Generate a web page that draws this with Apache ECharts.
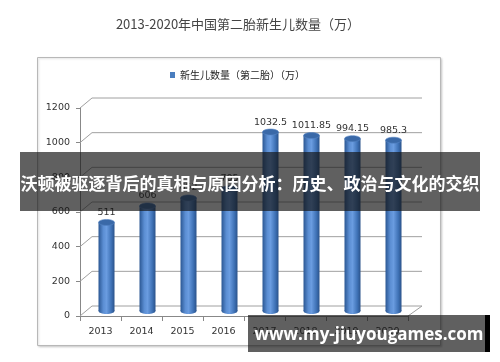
<!DOCTYPE html>
<html><head><meta charset="utf-8">
<script src="https://cdn.jsdelivr.net/npm/echarts@6/dist/echarts.min.js"></script>
<style>html,body{margin:0;padding:0;background:#fff}#c{width:500px;height:362px}</style>
</head><body><div id="c"></div>
<script>
const titleText = '2013-2020年中国第二胎新生儿数量（万）';
const seriesName = '新生儿数量（第二胎）（万）';
const categories = ['2013','2014','2015','2016','2017','2018','2019','2020'];
const values = [511, 606, 652, 705, 1032.5, 1011.85, 994.15, 985.3];
const yTicks = [0, 200, 400, 600, 800, 1000, 1200];
const bannerText = '沃顿被驱逐背后的真相与原因分析：历史、政治与文化的交织';
const watermark = 'www.my-jiuyougames.com';

const DX = 12, DY = 10; // depth of back wall
const chart = echarts.init(document.getElementById('c'));
const numFont = 'DejaVu Sans, Verdana, sans-serif';
const cjk = '"Noto Sans CJK SC", sans-serif';

chart.setOption({
  animation: false,
  backgroundColor: '#fff',
  title: {
    text: titleText, left: 233, top: 13, textAlign: 'center',
    textStyle: { fontFamily: cjk, fontSize: 13, fontWeight: 'normal', color: '#444' }
  },
  legend: {
    data: [{ name: seriesName, icon: 'rect' }], top: 65, left: 165, itemWidth: 5, itemHeight: 6, itemGap: 3,
    textStyle: { fontFamily: cjk, fontSize: 10, color: '#222' }
  },
  grid: { left: 80, width: 328, top: 108, height: 208 },
  xAxis: {
    type: 'category', data: categories,
    axisLine: { lineStyle: { color: '#888' } },
    axisTick: { show: true, lineStyle: { color: '#888' }, length: 5 },
    axisLabel: { fontFamily: numFont, fontSize: 9.5, color: '#333', margin: 11 }
  },
  yAxis: {
    type: 'value', min: 0, max: 1200, interval: 200,
    axisLine: { show: true, lineStyle: { color: '#888' } },
    axisTick: { show: true, length: 4, lineStyle: { color: '#888' } },
    axisLabel: { fontFamily: numFont, fontSize: 9.5, color: '#333', margin: 10, formatter: v => String(v) },
    splitLine: { show: false }
  },
  series: [
    {
      type: 'custom', name: 'walls', silent: true, z: 1,
      data: yTicks.map(v => [0, v]),
      renderItem: function (params, api) {
        const cs = params.coordSys;
        const v = api.value(1);
        const y = api.coord([0, v])[1];
        const children = [{
          type: 'polyline',
          shape: { points: [[cs.x, y], [cs.x + DX, y - DY], [cs.x + cs.width + DX + 2, y - DY]] },
          style: { stroke: '#a0a0a0', lineWidth: 1, fill: null }
        }];
        if (v === 0) {
          children.push({ type: 'line', shape: { x1: cs.x + cs.width, y1: y, x2: cs.x + cs.width + DX + 2, y2: y - DY },
            style: { stroke: '#a0a0a0', lineWidth: 1 } });
        }
        return { type: 'group', children: children };
      }
    },
    {
      type: 'custom', name: seriesName, z: 3,
      itemStyle: { color: '#4a7ebf' },
      data: values.map((v, i) => [i, v]),
      renderItem: function (params, api) {
        const i = api.value(0), v = api.value(1);
        const top = api.coord([i, v]);
        const base = api.coord([i, 0]);
        const cx = top[0] + 6, ty = top[1] - 5, by = base[1] - 5;
        const w = 16, rx = w / 2, ry = 3;
        const grad = new echarts.graphic.LinearGradient(0, 0, 1, 0, [
          { offset: 0, color: '#2b5793' }, { offset: 0.3, color: '#5b8ed3' },
          { offset: 0.5, color: '#6a9ce0' }, { offset: 0.8, color: '#3f72b6' }, { offset: 1, color: '#2a528a' }
        ]);
        return { type: 'group', children: [
          { type: 'ellipse', shape: { cx: cx, cy: by, rx: rx, ry: ry }, style: { fill: grad } },
          { type: 'rect', shape: { x: cx - rx, y: ty, width: w, height: by - ty }, style: { fill: grad } },
          { type: 'ellipse', shape: { cx: cx, cy: ty, rx: rx, ry: ry }, style: { fill: '#3a69a8', stroke: '#5684c4', lineWidth: 0.6 } },
          { type: 'text', style: { text: String(v), x: cx, y: ty - 10, textAlign: 'center', textVerticalAlign: 'middle',
            font: '9.5px ' + numFont, fill: '#333' } }
        ]};
      }
    }
  ],
  graphic: [
    { type: 'rect', z: -1, shape: { x: 37.5, y: 57.5, width: 403, height: 288 }, style: { fill: '#fff', stroke: '#b8b8b8', lineWidth: 1, shadowBlur: 2, shadowColor: 'rgba(0,0,0,0.15)', shadowOffsetX: 1, shadowOffsetY: 1 } },
    { type: 'rect', z: 100, shape: { x: 20, y: 152, width: 460, height: 59 }, style: { fill: 'rgba(20,20,20,0.68)' } },
    { type: 'text', z: 101, style: { text: bannerText, x: 250, y: 184, textAlign: 'center', textVerticalAlign: 'middle',
      font: 'bold 17px ' + cjk, fill: '#fff' } },
    { type: 'rect', z: 100, shape: { x: 248, y: 315, width: 237, height: 37 }, style: { fill: 'rgba(20,20,20,0.68)' } },
    { type: 'rect', z: 100, shape: { x: 485, y: 315, width: 5, height: 37 }, style: { fill: '#000' } },
    { type: 'text', z: 101, style: { text: watermark, x: 369, y: 335, textAlign: 'center', textVerticalAlign: 'middle',
      font: 'bold 17px "Open Sans", "DejaVu Sans", sans-serif', fill: '#fff' } }
  ]
});
</script></body></html>
